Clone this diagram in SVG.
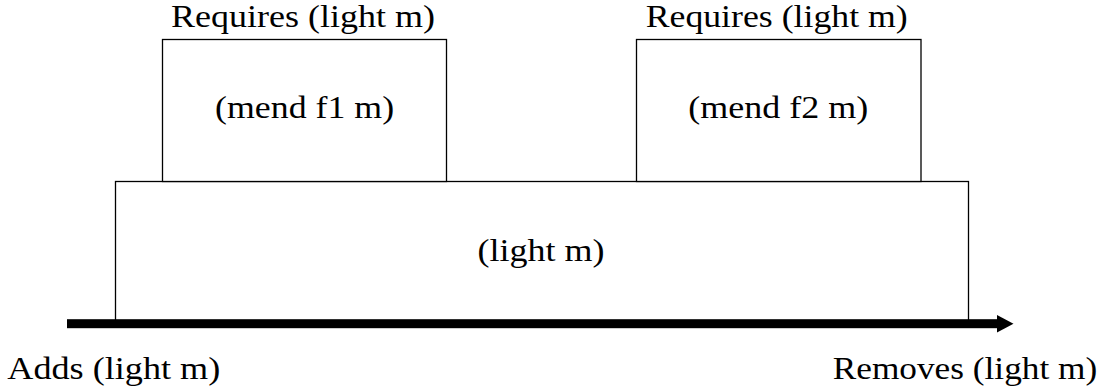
<svg xmlns="http://www.w3.org/2000/svg" width="1104" height="391" viewBox="0 0 1104 391">
<style>
.box{fill:#fff;stroke:#000;stroke-width:1.3}
.t{font-family:"Liberation Serif","Times New Roman",serif;font-size:31px;fill:#000}
.m{text-anchor:middle}
</style>
<rect width="1104" height="391" fill="#fff"/>
<g id="light">
<rect class="box" x="115.5" y="181.5" width="853" height="140"/>
<text class="t m" x="541" y="261" textLength="127" lengthAdjust="spacingAndGlyphs">(light m)</text>
</g>
<g id="mend1">
<rect class="box" x="162.5" y="39.5" width="284" height="142"/>
<text class="t m" x="304.6" y="118" textLength="179" lengthAdjust="spacingAndGlyphs">(mend f1 m)</text>
<text class="t m" x="303" y="27" textLength="264" lengthAdjust="spacingAndGlyphs">Requires (light m)</text>
</g>
<g id="mend2">
<rect class="box" x="636.5" y="39.5" width="284.5" height="142"/>
<text class="t m" x="778.3" y="118" textLength="180" lengthAdjust="spacingAndGlyphs">(mend f2 m)</text>
<text class="t m" x="776.7" y="27" textLength="262" lengthAdjust="spacingAndGlyphs">Requires (light m)</text>
</g>
<g id="connectors">
<rect x="67" y="319.2" width="931" height="9" fill="#000"/>
<polygon points="997,315 1013.5,323.7 997,332.5" fill="#000"/>
</g>
<g id="labels">
<text class="t" x="7.3" y="379.3" textLength="213" lengthAdjust="spacingAndGlyphs">Adds (light m)</text>
<text class="t" x="832.7" y="379.3" textLength="264.6" lengthAdjust="spacingAndGlyphs">Removes (light m)</text>
</g>
</svg>
